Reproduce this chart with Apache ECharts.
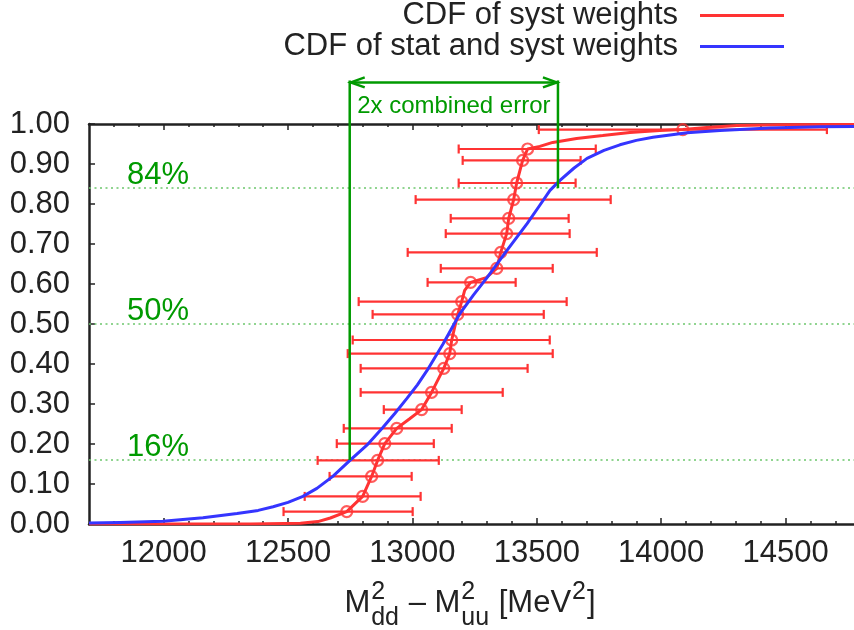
<!DOCTYPE html>
<html><head><meta charset="utf-8">
<script src="https://cdn.jsdelivr.net/npm/echarts@6.0.0/dist/echarts.min.js"></script>
<style>html,body{margin:0;padding:0;background:#fff}#c{width:854px;height:630px}</style>
</head><body><div id="c"></div>
<script>
// ---------- data ----------
const xMin = 11700, xMax = 14775;
const majorTicks = [12000, 12500, 13000, 13500, 14000, 14500];
const minorTicks = [11800, 11900, 12100, 12200, 12300, 12400, 12600, 12700, 12800, 12900,
  13100, 13200, 13300, 13400, 13600, 13700, 13800, 13900, 14100, 14200, 14300, 14400, 14600, 14700];

// red CDF (syst weights): points with error bars
const ptX   = [12736, 12800, 12836, 12860, 12889, 12937, 13037, 13077, 13126, 13150, 13158, 13182,
               13198, 13234, 13339, 13355, 13379, 13387, 13407, 13419, 13443, 13463, 14087];
const ptY   = [0.031, 0.069, 0.119, 0.159, 0.201, 0.239, 0.286, 0.329, 0.389, 0.426, 0.460, 0.524,
               0.556, 0.604, 0.639, 0.679, 0.726, 0.764, 0.811, 0.8525, 0.909, 0.9375, 0.986];
const errLo = [12482, 12567, 12667, 12619, 12696, 12724, 12885, 12792, 12792, 12740, 12760, 12840,
               12784, 13061, 13114, 12981, 13134, 13154, 13013, 13186, 13202, 13186, 13508];
const errHi = [13001, 13033, 12997, 13106, 13086, 13158, 13198, 13363, 13463, 13564, 13552, 13528,
               13620, 13415, 13564, 13741, 13632, 13628, 13797, 13656, 13676, 13737, 14666];

// red CDF curve (through the points)
const redX = [11700, 12350, 12550, 12620, 12670, 12736, 12800, 12836, 12860, 12889, 12937, 12989, 13037,
              13077, 13126, 13150, 13158, 13182, 13198, 13210, 13234, 13297, 13339, 13355, 13379, 13387,
              13407, 13419, 13443, 13463, 13512, 13564, 13660, 13765, 13874, 13994, 14087, 14183, 14304,
              14477, 14775];
const redY = [0.000, 0.000, 0.002, 0.006, 0.015, 0.031, 0.069, 0.119, 0.159, 0.201, 0.239, 0.263, 0.286,
              0.329, 0.389, 0.426, 0.460, 0.524, 0.556, 0.584, 0.604, 0.616, 0.639, 0.679, 0.726, 0.764,
              0.811, 0.8525, 0.909, 0.9375, 0.944, 0.954, 0.964, 0.971, 0.979, 0.984, 0.986, 0.991, 0.996,
              0.998, 0.999];

// blue CDF (stat and syst weights)
const blueX = [11700, 11825, 11997, 12158, 12295, 12380, 12440, 12500, 12560, 12616, 12680, 12749, 12817, 12882,
               12930, 12978, 13020, 13059, 13123, 13191, 13245, 13300, 13380, 13461, 13510, 13553, 13593, 13650,
               13702, 13770, 13834, 13900, 13967, 14104, 14236, 14437, 14638, 14775];
const blueY = [0.0025, 0.0035, 0.007, 0.0155, 0.026, 0.034, 0.043, 0.054, 0.069, 0.089, 0.119, 0.159, 0.197, 0.242,
               0.277, 0.314, 0.348, 0.384, 0.450, 0.526, 0.572, 0.616, 0.684, 0.751, 0.795, 0.834, 0.859, 0.890,
               0.914, 0.934, 0.948, 0.959, 0.967, 0.978, 0.984, 0.990, 0.993, 0.994];

// quantile levels
const pctVals = [0.16, 0.50, 0.84];
const pctText = ['16%', '50%', '84%'];
// 2x combined error bracket
const bracketLo = 12748, bracketHi = 13585, bracketTop = 1.104;
const bracketText = '2x combined error';

const nameRed = 'CDF of syst weights';
const nameBlue = 'CDF of stat and syst weights';

// ---------- chart ----------
const FONT = '"Liberation Sans", Arial, Helvetica, sans-serif';
const FS = 31;
const RED = '#ff3333', BLUE = '#3535ff', GREEN = '#009a00', DOT = '#6cc66c', INK = '#222222';

const zip = (a, b) => a.map((v, i) => [v, b[i]]);

function axisX(pos, ticks, len, showLine, showLabel) {
  return {
    type: 'value', min: xMin, max: xMax, position: pos, gridIndex: 0,
    axisLine: { show: showLine, onZero: false, lineStyle: { color: INK, width: 2.5 } },
    axisTick: { show: true, inside: true, length: len, customValues: ticks, lineStyle: { color: INK, width: 1.5 } },
    axisLabel: { show: showLabel, customValues: ticks, formatter: v => String(v), margin: 14,
                 fontSize: FS, color: INK, fontFamily: FONT },
    splitLine: { show: false }
  };
}

const chart = echarts.init(document.getElementById('c'), null, { renderer: 'canvas' });

// x-axis title built from pieces (with stacked super/subscripts)
const cv = document.createElement('canvas').getContext('2d');
function tw(t, s) { cv.font = s + 'px ' + FONT; return cv.measureText(t).width; }
const MAIN = 31, SCR = 25;
const pieces = [
  { t: 'M' }, { sup: '2', sub: 'dd' }, { t: ' \u2013 M' }, { sup: '2', sub: 'uu' },
  { t: ' [MeV' }, { sup: '2' }, { t: ']' }
];
function buildTitle(cx, baseY) {
  const w = pieces.map(p => p.t ? tw(p.t, MAIN) : Math.max(tw(p.sup || '', SCR), tw(p.sub || '', SCR)) + 2);
  const total = w.reduce((a, b) => a + b, 0);
  let x = cx - total / 2;
  const els = [];
  pieces.forEach((p, i) => {
    if (p.t) {
      els.push({ type: 'text', x: x, y: baseY - 9.6, style: { text: p.t, font: MAIN + 'px ' + FONT, fill: INK, align: 'left', verticalAlign: 'middle' } });
    } else {
      if (p.sup) els.push({ type: 'text', x: x + 1, y: baseY - 21, style: { text: p.sup, font: SCR + 'px ' + FONT, fill: INK, align: 'left', verticalAlign: 'middle' } });
      if (p.sub) els.push({ type: 'text', x: x + 1, y: baseY + 5, style: { text: p.sub, font: SCR + 'px ' + FONT, fill: INK, align: 'left', verticalAlign: 'middle' } });
    }
    x += w[i];
  });
  return els;
}

const option = {
  animation: false,
  backgroundColor: '#ffffff',
  grid: { left: 89, top: 124, right: 0, bottom: 106, containLabel: false },
  legend: [
    { data: [nameRed], right: 70, top: 0, padding: 0, icon: 'rect', itemWidth: 84, itemHeight: 3, align: 'right',
      textStyle: { fontSize: FS, color: INK, fontFamily: FONT, padding: [0, 17, 0, 0] } },
    { data: [nameBlue], right: 70, top: 31, padding: 0, icon: 'rect', itemWidth: 84, itemHeight: 3, align: 'right',
      textStyle: { fontSize: FS, color: INK, fontFamily: FONT, padding: [0, 17, 0, 0] } }
  ],
  xAxis: [
    axisX('bottom', majorTicks, 6, true, true),
    axisX('bottom', minorTicks, 3, false, false),
    axisX('top', majorTicks, 6, true, false),
    axisX('top', minorTicks, 3, false, false)
  ],
  yAxis: {
    type: 'value', min: 0, max: 1, interval: 0.1,
    axisLine: { show: true, onZero: false, lineStyle: { color: INK, width: 2.5 } },
    axisTick: { show: true, inside: true, length: 6, lineStyle: { color: INK, width: 1.5 } },
    axisLabel: { formatter: v => v.toFixed(2), margin: 19, fontSize: FS, color: INK, fontFamily: FONT },
    splitLine: { show: false }
  },
  graphic: buildTitle(470, 613),
  series: [
    { // quantile dotted lines and labels
      type: 'custom', z: 1, clip: false, silent: true,
      data: pctVals.map((v, i) => [v, pctText[i]]),
      renderItem: (params, api) => {
        const cs = params.coordSys;
        const p = api.coord([xMin, api.value(0)]);
        return { type: 'group', children: [
          { type: 'line', shape: { x1: cs.x, y1: p[1], x2: cs.x + cs.width, y2: p[1] },
            style: { stroke: DOT, lineWidth: 1.6, lineDash: [2, 3.5] } },
          { type: 'text', x: cs.x + 69, y: p[1] - 13,
            style: { text: pctText[params.dataIndex], font: FS + 'px ' + FONT, fill: GREEN, align: 'center', verticalAlign: 'middle' } }
        ] };
      }
    },
    { // error bars
      type: 'custom', z: 3, silent: true,
      data: ptY.map((y, i) => [errLo[i], errHi[i], y]),
      encode: { x: [0, 1], y: 2 },
      renderItem: (params, api) => {
        const a = api.coord([api.value(0), api.value(2)]);
        const b = api.coord([api.value(1), api.value(2)]);
        const h = 4.5, st = { stroke: RED, lineWidth: 2.2 };
        return { type: 'group', children: [
          { type: 'line', shape: { x1: a[0], y1: a[1], x2: b[0], y2: b[1] }, style: st },
          { type: 'line', shape: { x1: a[0], y1: a[1] - h, x2: a[0], y2: a[1] + h }, style: st },
          { type: 'line', shape: { x1: b[0], y1: b[1] - h, x2: b[0], y2: b[1] + h }, style: st }
        ] };
      }
    },
    {
      name: nameRed, type: 'line', z: 3, data: zip(redX, redY), showSymbol: false, smooth: false,
      lineStyle: { color: RED, width: 3 }, itemStyle: { color: RED }
    },
    {
      type: 'scatter', z: 4, data: zip(ptX, ptY), symbol: 'circle', symbolSize: 11,
      itemStyle: { color: 'rgba(0,0,0,0)', borderColor: RED, borderWidth: 2.2 }
    },
    {
      name: nameBlue, type: 'line', z: 5, data: zip(blueX, blueY), showSymbol: false,
      smooth: false,
      lineStyle: { color: BLUE, width: 3, join: 'round' }, itemStyle: { color: BLUE }
    },
    { // 2x combined error bracket
      type: 'custom', z: 6, clip: false, silent: true,
      data: [[bracketLo, bracketHi, pctVals[0], pctVals[2], bracketTop]],
      renderItem: (params, api) => {
        const l0 = api.coord([api.value(0), api.value(2)]);
        const r0 = api.coord([api.value(1), api.value(3)]);
        const lt = api.coord([api.value(0), api.value(4)]);
        const rt = api.coord([api.value(1), api.value(4)]);
        const st = { stroke: GREEN, lineWidth: 2.5, fill: null };
        const ah = 15, aw = 5;
        return { type: 'group', children: [
          { type: 'line', shape: { x1: l0[0], y1: l0[1], x2: lt[0], y2: lt[1] - 2 }, style: st },
          { type: 'line', shape: { x1: r0[0], y1: r0[1], x2: rt[0], y2: rt[1] - 2 }, style: st },
          { type: 'line', shape: { x1: lt[0], y1: lt[1], x2: rt[0], y2: rt[1] }, style: st },
          { type: 'polyline', shape: { points: [[lt[0] + ah, lt[1] - aw], [lt[0] + 1, lt[1]], [lt[0] + ah, lt[1] + aw]] }, style: st },
          { type: 'polyline', shape: { points: [[rt[0] - ah, rt[1] - aw], [rt[0] - 1, rt[1]], [rt[0] - ah, rt[1] + aw]] }, style: st },
          { type: 'text', x: (lt[0] + rt[0]) / 2, y: lt[1] + 24,
            style: { text: bracketText, font: '24px ' + FONT, fill: GREEN, align: 'center', verticalAlign: 'middle' } }
        ] };
      }
    }
  ]
};
chart.setOption(option);
</script></body></html>
